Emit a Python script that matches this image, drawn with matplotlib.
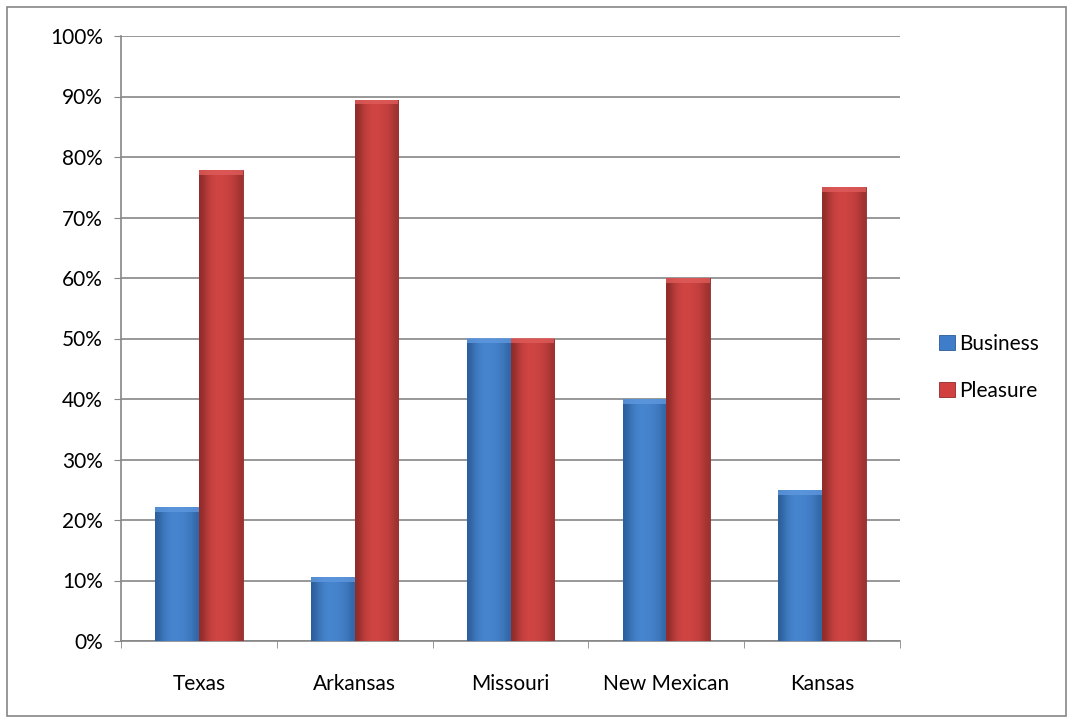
import matplotlib.pyplot as plt
import numpy as np
from matplotlib.patches import Rectangle
from matplotlib.colors import LinearSegmentedColormap

states = ["Texas", "Arkansas", "Missouri", "New Mexican", "Kansas"]
business = [22.2, 10.5, 50.0, 40.0, 25.0]
pleasure = [77.8, 89.5, 50.0, 60.0, 75.0]
yticks = list(range(0, 101, 10))

plt.rcParams['font.family'] = ['Lato', 'DejaVu Sans']

fig = plt.figure(figsize=(10.73, 7.23), dpi=100)
ax = fig.add_axes([121 / 1073, 1 - 641 / 723, (900 - 121) / 1073, (641 - 36) / 723])

x = np.arange(len(states))
w = 0.28
b1 = ax.bar(x - w / 2, business, w, color="#3f7dcb", edgecolor="#2a5a95", linewidth=0.6,
            label="Business", zorder=3)
b2 = ax.bar(x + w / 2, pleasure, w, color="#d0413f", edgecolor="#8e2a28", linewidth=0.6,
            label="Pleasure", zorder=3)

# soft horizontal shading to mimic the bevelled Excel bars
shade = np.array([[0.0, 0.55, 0.8, 0.9, 0.85, 0.75, 0.6, 0.2]])
cmaps = {
    "b": LinearSegmentedColormap.from_list("b", ["#2c5f9c", "#4a8ad6"]),
    "r": LinearSegmentedColormap.from_list("r", ["#8f2c2a", "#d84846"]),
}
for bars, key, top in [(b1, "b", "#5f98de"), (b2, "r", "#df5c5a")]:
    for p in bars:
        x0, y0 = p.get_x(), p.get_y()
        pw, ph = p.get_width(), p.get_height()
        im = ax.imshow(shade, cmap=cmaps[key], aspect="auto", vmin=0, vmax=1,
                       extent=(x0, x0 + pw, y0, y0 + ph), zorder=3.5,
                       interpolation="bicubic")
        im.set_clip_path(p)
        ax.add_patch(Rectangle((x0, y0 + ph - 0.8), pw, 0.8, color=top,
                               zorder=3.6, linewidth=0, alpha=0.8))

ax.set_xlim(-0.5, len(states) - 0.5)
ax.set_ylim(0, 100)
ax.set_yticks(yticks)
ax.set_yticklabels([f"{v}%" for v in yticks], fontsize=15)
ax.set_xticks(x)
ax.set_xticklabels(states, fontsize=15)
ax.tick_params(axis="x", length=0, pad=24)
ax.tick_params(axis="y", length=5, color="#868686", pad=8)
ax.set_xticks(np.arange(-0.5, len(states), 1), minor=True)
ax.tick_params(axis="x", which="minor", length=5, color="#868686")

ax.grid(axis="y", color="#868686", linewidth=1.2, zorder=0)
for s in ["top", "right"]:
    ax.spines[s].set_visible(False)
for s in ["left", "bottom"]:
    ax.spines[s].set_color("#868686")
    ax.spines[s].set_linewidth(1.2)

ax.legend(loc="center left", bbox_to_anchor=(1.026, 0.452), frameon=False, fontsize=15,
          handlelength=0.75, handleheight=0.75, handletextpad=0.2, labelspacing=1.3)

fig.patches.append(Rectangle((7 / 1073, 7 / 723), 1059 / 1073, 709 / 723,
                             transform=fig.transFigure, fill=False,
                             edgecolor="#868686", linewidth=1.2))

fig.savefig("out.png", dpi=100)
